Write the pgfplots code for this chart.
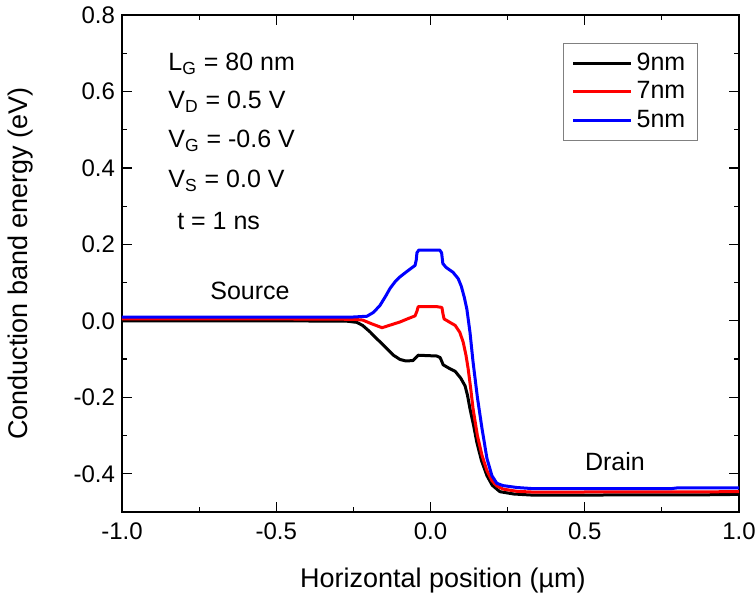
\documentclass[border=0pt]{standalone}
\usepackage{pgfplots}
\pgfplotsset{compat=1.18}
\usepackage{fontspec}
\setmainfont{Liberation Sans}
\newcommand{\fa}{\fontsize{12.5}{15}\selectfont}
\begin{document}
\begin{tikzpicture}
\begin{axis}[
  scale only axis,
  width=308.5pt, height=248.5pt,
  xmin=-1, xmax=1, ymin=-0.5, ymax=0.8,
  xtick={-1,-0.5,0,0.5,1},
  ytick={-0.4,-0.2,0,0.2,0.4,0.6,0.8},
  minor x tick num=1, minor y tick num=1,
  tick align=inside,
  major tick length=5pt, minor tick length=2.5pt,
  axis line style={line width=0.75pt},
  every tick/.style={line width=0.6pt, black},
  /pgf/number format/assume math mode=true,
  /pgf/number format/.cd, fixed, fixed zerofill, precision=1, /pgfplots/.cd,
  tick label style={font=\fontsize{12}{14}\selectfont},
  xticklabel style={yshift=-2pt},
  label style={font=\fontsize{13.5}{16}\selectfont},
  xlabel={Horizontal position (µm)},
  ylabel={Conduction band energy (eV)},
  xlabel style={at={(axis description cs:0.52,-0.137)}, anchor=center},
  ylabel style={at={(axis description cs:-0.165,0.5)}, anchor=center},
  legend style={at={(0.715,0.944)}, anchor=north west, draw=gray, line width=0.5pt,
    font=\fa, row sep=0pt, inner xsep=4pt, inner ysep=3pt},
  legend cell align=left,
  legend image code/.code={\draw[#1] (0pt,0pt) -- (29pt,0pt);},
  every axis plot/.append style={line width=1.5pt, line join=round},
]
\addplot[black] coordinates {
(-1,0.0) (-0.5,0.0) (-0.27,-0.001) (-0.239,-0.004) (-0.22,-0.012) (-0.196,-0.029)
(-0.17,-0.050) (-0.141,-0.073) (-0.12,-0.090) (-0.099,-0.101) (-0.08,-0.105)
(-0.057,-0.104) (-0.048,-0.097) (-0.040,-0.090) (0.020,-0.092) (0.031,-0.096)
(0.036,-0.105) (0.041,-0.115) (0.060,-0.124) (0.080,-0.132) (0.098,-0.150)
(0.112,-0.170) (0.120,-0.195) (0.128,-0.230) (0.140,-0.275) (0.150,-0.317)
(0.165,-0.365) (0.183,-0.405) (0.200,-0.430) (0.225,-0.447) (0.27,-0.453)
(0.333,-0.456) (0.9,-0.455) (1.0,-0.454)
};
\addlegendentry{9nm}
\addplot[red] coordinates {
(-1,0.005) (-0.5,0.005) (-0.25,0.004) (-0.22,0.002) (-0.19,-0.008) (-0.157,-0.018)
(-0.13,-0.011) (-0.099,-0.003) (-0.075,0.005) (-0.050,0.013) (-0.044,0.025)
(-0.040,0.037) (0.021,0.037) (0.037,0.035) (0.040,0.020) (0.044,0.005)
(0.065,-0.005) (0.080,-0.012) (0.095,-0.030) (0.106,-0.056) (0.115,-0.090)
(0.122,-0.125) (0.130,-0.175) (0.138,-0.230) (0.152,-0.300) (0.167,-0.352)
(0.183,-0.392) (0.199,-0.418) (0.215,-0.432) (0.235,-0.440) (0.28,-0.446)
(0.333,-0.448) (1.0,-0.447)
};
\addlegendentry{7nm}
\addplot[blue] coordinates {
(-1,0.010) (-0.5,0.010) (-0.25,0.010) (-0.206,0.012) (-0.185,0.022) (-0.164,0.040)
(-0.145,0.065) (-0.131,0.085) (-0.115,0.102) (-0.099,0.115) (-0.075,0.130)
(-0.050,0.145) (-0.046,0.160) (-0.044,0.178) (-0.038,0.185) (0.030,0.185)
(0.036,0.178) (0.040,0.150) (0.050,0.140) (0.073,0.127) (0.090,0.110)
(0.100,0.090) (0.110,0.060) (0.118,0.030) (0.128,-0.030) (0.138,-0.108)
(0.152,-0.200) (0.167,-0.282) (0.183,-0.360) (0.199,-0.405) (0.215,-0.425)
(0.235,-0.431) (0.28,-0.436) (0.333,-0.439) (0.78,-0.439) (0.8,-0.437) (1.0,-0.437)
};
\addlegendentry{5nm}
\node[anchor=west, font=\fa, inner sep=0pt] at (axis cs:-0.851,0.672) {L\textsubscript{G} = 80 nm};
\node[anchor=west, font=\fa, inner sep=0pt] at (axis cs:-0.851,0.573) {V\textsubscript{D} = 0.5 V};
\node[anchor=west, font=\fa, inner sep=0pt] at (axis cs:-0.851,0.471) {V\textsubscript{G} = -0.6 V};
\node[anchor=west, font=\fa, inner sep=0pt] at (axis cs:-0.851,0.366) {V\textsubscript{S} = 0.0 V};
\node[anchor=west, font=\fa, inner sep=0pt] at (axis cs:-0.822,0.262) {t = 1 ns};
\node[font=\fa] at (axis cs:-0.585,0.078) {Source};
\node[font=\fa] at (axis cs:0.598,-0.369) {Drain};
\end{axis}
\pgfresetboundingbox
\path ([shift={(-61pt,-43pt)}]current axis.south west) rectangle ([shift={(8pt,7.5pt)}]current axis.north east);
\end{tikzpicture}
\end{document}
